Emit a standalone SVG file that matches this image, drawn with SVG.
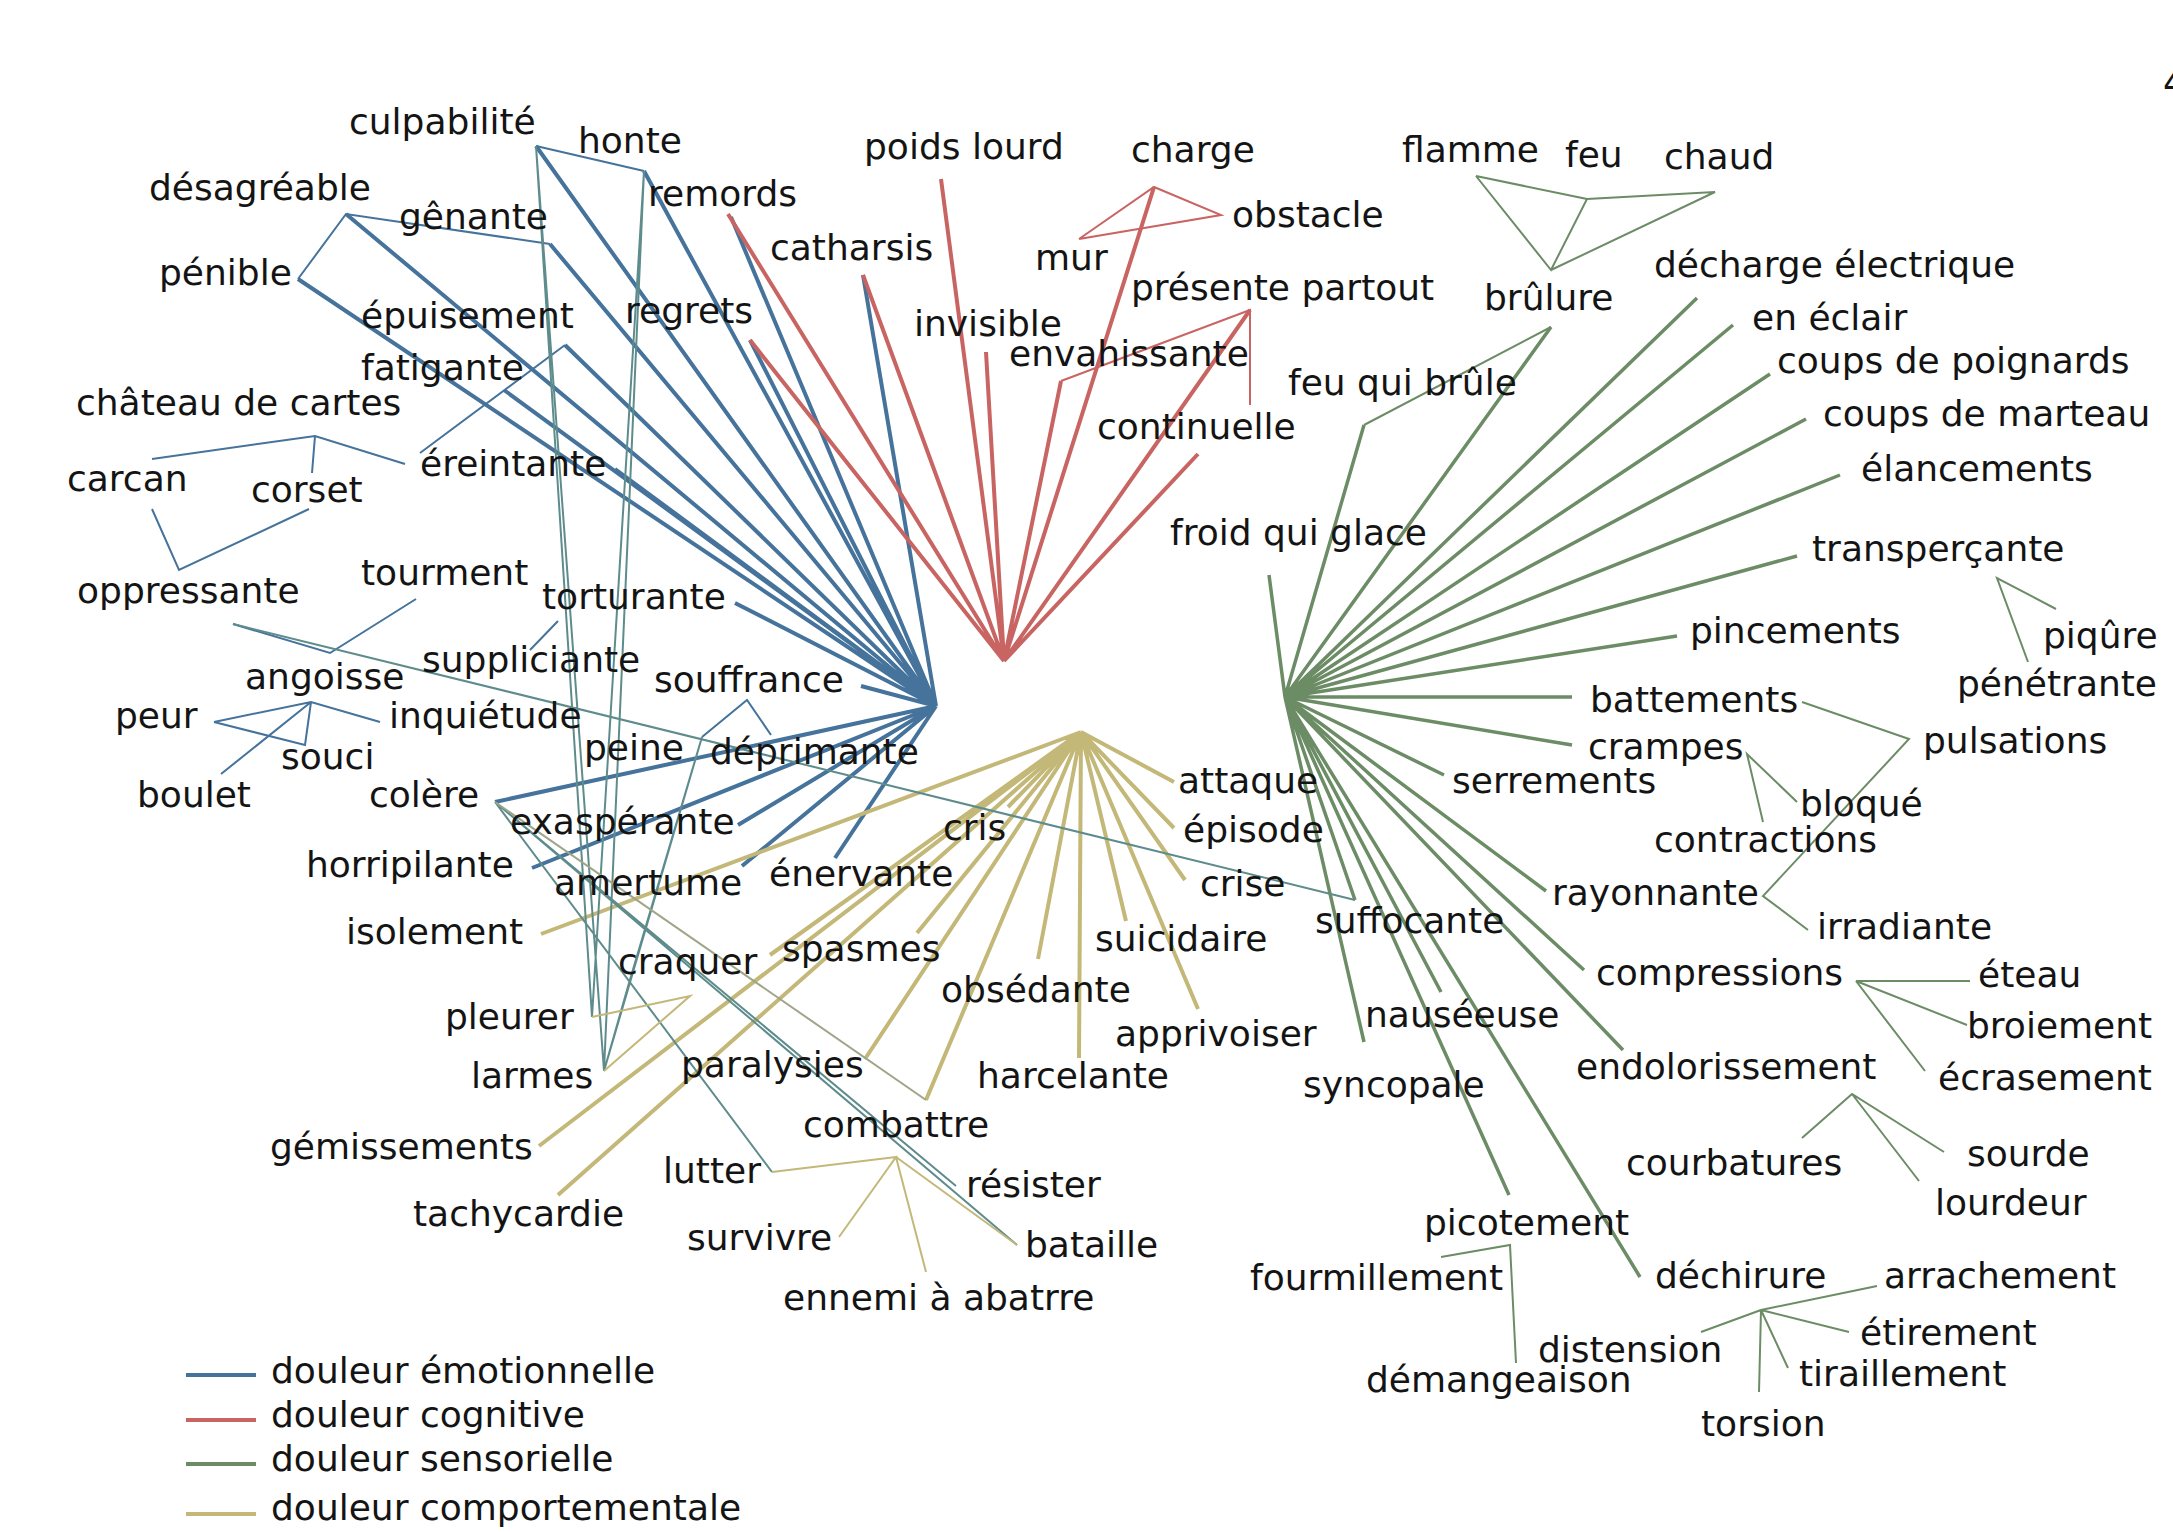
<svg xmlns="http://www.w3.org/2000/svg" width="2173" height="1532" viewBox="0 0 2173 1532">
<style>
text{font-family:"DejaVu Sans",Verdana,sans-serif;font-size:36px;fill:#141414}
.l{fill:none;stroke-linecap:butt}
.B{stroke:#45739b;stroke-width:4}
.Bt{stroke:#45739b;stroke-width:2}
.R{stroke:#c86562;stroke-width:4}
.Rt{stroke:#c86562;stroke-width:2}
.G{stroke:#6c8c66;stroke-width:3.5}
.Gt{stroke:#6c8c66;stroke-width:2}
.Y{stroke:#c3b878;stroke-width:4}
.Yt{stroke:#c3b878;stroke-width:2}
.T{stroke:#5e8c8c;stroke-width:2}
.M{stroke:#9ea589;stroke-width:2}
</style>
<rect width="2173" height="1532" fill="#fff"/>
<g id="connectors">
<g class="l B">
<path d="M536 146L936 706M644 171L936 706M731 217L936 706M750 340L936 706M863 275L936 706M550 244L936 706M346 214L936 706M298 279L936 706M565 345L936 706M504 390L936 706M615 469L936 706M735 603L936 706M861 686L936 706M495 802L936 706M532 868L936 706M738 825L936 706M742 866L936 706M835 858L936 706"/>
</g>
<g class="l R">
<path d="M728 214L1004 661M750 340L1004 661M863 275L1004 661M941 179L1004 661M986 352L1004 661M1154 187L1004 661M1061 381L1004 661M1250 310L1004 661M1198 454L1004 661"/>
</g>
<g class="l G">
<path d="M1269 575L1285 697M1364 425L1285 697M1551 327L1285 697M1697 298L1285 697M1733 325L1285 697M1770 374L1285 697M1806 419L1285 697M1840 475L1285 697M1797 556L1285 697M1677 636L1285 697M1572 697L1285 697M1572 745L1285 697M1444 775L1285 697M1546 891L1285 697M1584 970L1285 697M1623 1050L1285 697M1640 1277L1285 697M1509 1195L1285 697M1441 992L1285 697M1364 1042L1285 697M1355 900L1285 697"/>
</g>
<g class="l Y">
<path d="M1174 782L1081 732M1174 828L1081 732M1185 880L1081 732M1126 921L1081 732M1198 1009L1081 732M1079 1058L1081 732M1038 959L1081 732M926 1100L1081 732M865 1059L1081 732M917 933L1081 732M1008 807L1081 732M770 955L1081 732M541 934L1081 732M539 1146L1081 732M558 1195L1081 732"/>
</g>
<g class="l Bt">
<path d="M298 279L346 214L550 244M536 146L644 171M152 459L315 436L405 464M315 436L312 473M420 453L565 345M152 509L179 570L309 509M416 599L330 653L233 624M214 722L311 702L380 722M311 702L305 745L214 722M311 702L221 774M530 650L558 621M771 735L747 700L702 737"/>
</g>
<g class="l T">
<path d="M233 624L1355 900M536 146L592 1017M536 146L604 1071M644 171L592 1017M644 171L604 1071M495 802L956 1186M495 802L1017 1245M495 802L772 1172M702 737L604 1071M702 737L629 983M604 1071L629 983"/>
</g>
<g class="l M">
<path d="M495 802L926 1100"/>
</g>
<g class="l Yt">
<path d="M592 1017L690 996L604 1071M772 1172L896 1157L839 1237M896 1157L926 1272M896 1157L1017 1245"/>
</g>
<g class="l Rt">
<path d="M1079 239L1154 187L1221 215L1079 239M1061 381L1250 310L1250 405"/>
</g>
<g class="l Gt">
<path d="M1476 176L1587 199L1551 270L1476 176M1587 199L1715 192L1551 270M1551 327L1364 425M2056 609L1997 578L2028 662M1802 702L1909 739L1763 896L1808 930M1797 802L1747 754L1763 822M1970 981L1856 981L1967 1025M1856 981L1925 1071M1802 1138L1852 1094L1944 1152M1852 1094L1919 1181M1877 1286L1761 1310L1849 1332M1761 1310L1788 1368M1761 1310L1759 1392M1761 1310L1701 1332M1441 1257L1510 1245L1516 1363"/>
</g>
</g>
<g id="n-culpabilite"><text x="349" y="134">culpabilité</text></g>
<g id="n-honte"><text x="578" y="153">honte</text></g>
<g id="n-remords"><text x="648" y="206">remords</text></g>
<g id="n-desagreable"><text x="149" y="200">désagréable</text></g>
<g id="n-genante"><text x="399" y="229">gênante</text></g>
<g id="n-penible"><text x="159" y="285">pénible</text></g>
<g id="n-epuisement"><text x="361" y="328">épuisement</text></g>
<g id="n-regrets"><text x="625" y="323">regrets</text></g>
<g id="n-fatigante"><text x="361" y="380">fatigante</text></g>
<g id="n-chateau"><text x="76" y="415">château de cartes</text></g>
<g id="n-carcan"><text x="67" y="491">carcan</text></g>
<g id="n-corset"><text x="251" y="502">corset</text></g>
<g id="n-ereintante"><text x="420" y="476">éreintante</text></g>
<g id="n-oppressante"><text x="77" y="603">oppressante</text></g>
<g id="n-tourment"><text x="361" y="585">tourment</text></g>
<g id="n-torturante"><text x="542" y="609">torturante</text></g>
<g id="n-suppliciante"><text x="422" y="672">suppliciante</text></g>
<g id="n-angoisse"><text x="245" y="689">angoisse</text></g>
<g id="n-peur"><text x="115" y="728">peur</text></g>
<g id="n-inquietude"><text x="389" y="728">inquiétude</text></g>
<g id="n-souci"><text x="281" y="769">souci</text></g>
<g id="n-boulet"><text x="137" y="807">boulet</text></g>
<g id="n-colere"><text x="369" y="807">colère</text></g>
<g id="n-souffrance"><text x="654" y="692">souffrance</text></g>
<g id="n-peine"><text x="584" y="760">peine</text></g>
<g id="n-deprimante"><text x="710" y="764">déprimante</text></g>
<g id="n-exasperante"><text x="510" y="834">exaspérante</text></g>
<g id="n-horripilante"><text x="306" y="877">horripilante</text></g>
<g id="n-amertume"><text x="554" y="895">amertume</text></g>
<g id="n-enervante"><text x="769" y="886">énervante</text></g>
<g id="n-isolement"><text x="346" y="944">isolement</text></g>
<g id="n-poids"><text x="864" y="159">poids lourd</text></g>
<g id="n-catharsis"><text x="770" y="260">catharsis</text></g>
<g id="n-invisible"><text x="914" y="336">invisible</text></g>
<g id="n-charge"><text x="1131" y="162">charge</text></g>
<g id="n-obstacle"><text x="1232" y="227">obstacle</text></g>
<g id="n-mur"><text x="1035" y="270">mur</text></g>
<g id="n-presente"><text x="1131" y="300">présente partout</text></g>
<g id="n-envahissante"><text x="1009" y="366">envahissante</text></g>
<g id="n-continuelle"><text x="1097" y="439">continuelle</text></g>
<g id="n-flamme"><text x="1402" y="162">flamme</text></g>
<g id="n-feu"><text x="1565" y="167">feu</text></g>
<g id="n-chaud"><text x="1664" y="169">chaud</text></g>
<g id="n-brulure"><text x="1484" y="310">brûlure</text></g>
<g id="n-feuquibrule"><text x="1288" y="395">feu qui brûle</text></g>
<g id="n-froid"><text x="1170" y="545">froid qui glace</text></g>
<g id="n-decharge"><text x="1654" y="277">décharge électrique</text></g>
<g id="n-eclair"><text x="1752" y="330">en éclair</text></g>
<g id="n-poignards"><text x="1777" y="373">coups de poignards</text></g>
<g id="n-marteau"><text x="1823" y="426">coups de marteau</text></g>
<g id="n-elancements"><text x="1861" y="481">élancements</text></g>
<g id="n-transpercante"><text x="1812" y="561">transperçante</text></g>
<g id="n-piqure"><text x="2043" y="648">piqûre</text></g>
<g id="n-penetrante"><text x="1957" y="696">pénétrante</text></g>
<g id="n-pincements"><text x="1690" y="643">pincements</text></g>
<g id="n-battements"><text x="1590" y="712">battements</text></g>
<g id="n-pulsations"><text x="1923" y="753">pulsations</text></g>
<g id="n-crampes"><text x="1588" y="759">crampes</text></g>
<g id="n-serrements"><text x="1452" y="793">serrements</text></g>
<g id="n-bloque"><text x="1800" y="816">bloqué</text></g>
<g id="n-contractions"><text x="1654" y="852">contractions</text></g>
<g id="n-rayonnante"><text x="1552" y="905">rayonnante</text></g>
<g id="n-irradiante"><text x="1817" y="939">irradiante</text></g>
<g id="n-compressions"><text x="1596" y="985">compressions</text></g>
<g id="n-eteau"><text x="1978" y="987">éteau</text></g>
<g id="n-broiement"><text x="1967" y="1038">broiement</text></g>
<g id="n-ecrasement"><text x="1938" y="1090">écrasement</text></g>
<g id="n-endolorissement"><text x="1576" y="1079">endolorissement</text></g>
<g id="n-courbatures"><text x="1626" y="1175">courbatures</text></g>
<g id="n-sourde"><text x="1967" y="1166">sourde</text></g>
<g id="n-lourdeur"><text x="1935" y="1215">lourdeur</text></g>
<g id="n-dechirure"><text x="1655" y="1288">déchirure</text></g>
<g id="n-arrachement"><text x="1884" y="1288">arrachement</text></g>
<g id="n-etirement"><text x="1860" y="1345">étirement</text></g>
<g id="n-tiraillement"><text x="1799" y="1386">tiraillement</text></g>
<g id="n-torsion"><text x="1701" y="1436">torsion</text></g>
<g id="n-distension"><text x="1538" y="1362">distension</text></g>
<g id="n-picotement"><text x="1424" y="1235">picotement</text></g>
<g id="n-fourmillement"><text x="1250" y="1290">fourmillement</text></g>
<g id="n-demangeaison"><text x="1366" y="1392">démangeaison</text></g>
<g id="n-nauseeuse"><text x="1365" y="1027">nauséeuse</text></g>
<g id="n-syncopale"><text x="1303" y="1097">syncopale</text></g>
<g id="n-suffocante"><text x="1315" y="933">suffocante</text></g>
<g id="n-attaque"><text x="1178" y="793">attaque</text></g>
<g id="n-episode"><text x="1183" y="842">épisode</text></g>
<g id="n-crise"><text x="1200" y="896">crise</text></g>
<g id="n-suicidaire"><text x="1095" y="951">suicidaire</text></g>
<g id="n-apprivoiser"><text x="1115" y="1046">apprivoiser</text></g>
<g id="n-harcelante"><text x="977" y="1088">harcelante</text></g>
<g id="n-obsedante"><text x="941" y="1002">obsédante</text></g>
<g id="n-cris"><text x="943" y="840">cris</text></g>
<g id="n-spasmes"><text x="782" y="961">spasmes</text></g>
<g id="n-craquer"><text x="618" y="974">craquer</text></g>
<g id="n-paralysies"><text x="681" y="1077">paralysies</text></g>
<g id="n-combattre"><text x="803" y="1137">combattre</text></g>
<g id="n-lutter"><text x="663" y="1183">lutter</text></g>
<g id="n-resister"><text x="966" y="1197">résister</text></g>
<g id="n-survivre"><text x="687" y="1250">survivre</text></g>
<g id="n-bataille"><text x="1025" y="1257">bataille</text></g>
<g id="n-ennemi"><text x="783" y="1310">ennemi à abatrre</text></g>
<g id="n-pleurer"><text x="445" y="1029">pleurer</text></g>
<g id="n-larmes"><text x="471" y="1088">larmes</text></g>
<g id="n-gemissements"><text x="270" y="1159">gémissements</text></g>
<g id="n-tachycardie"><text x="413" y="1226">tachycardie</text></g>
<g id="edge-mark"><text x="2163" y="95">4</text></g>
<g id="legend">
<path class="l B" d="M186 1375H256"/>
<path class="l R" d="M186 1420H256"/>
<path class="l G" d="M186 1464H256" style="stroke-width:4"/>
<path class="l Y" d="M186 1514H256"/>
<text x="271" y="1383">douleur émotionnelle</text>
<text x="271" y="1427">douleur cognitive</text>
<text x="271" y="1471">douleur sensorielle</text>
<text x="271" y="1520">douleur comportementale</text>
</g>
</svg>
